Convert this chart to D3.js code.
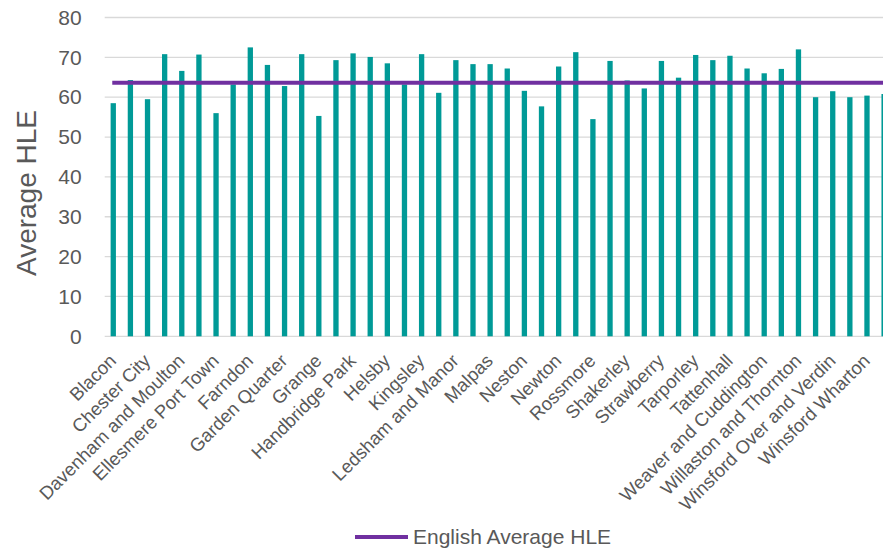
<!DOCTYPE html>
<html>
<head>
<meta charset="utf-8">
<script src="https://cdn.jsdelivr.net/npm/d3@7"></script>
<style>
  body { margin: 0; background: #fff; }
  svg { display: block; font-family: "Liberation Sans", Arial, sans-serif; }
</style>
</head>
<body>
<div id="chart"></div>
<script>
// wards, in the order they appear on the axis
var wards = [
    "Blacon", "Boughton", "Chester City", "Chester Villages", "Davenham and Moulton",
    "Dodleston and Huntington", "Ellesmere Port Town", "Elton", "Farndon", "Frodsham",
    "Garden Quarter", "Gowy", "Grange", "Great Boughton", "Handbridge Park",
    "Hartford and Greenbank", "Helsby", "Hoole", "Kingsley", "Lache",
    "Ledsham and Manor", "Little Neston and Burton", "Malpas", "Marbury", "Neston",
    "Netherpool", "Newton", "Parkgate", "Rossmore", "Saughall and Mollington",
    "Shakerley", "St Paul's", "Strawberry", "Sutton", "Tarporley",
    "Tarvin and Kelsall", "Tattenhall", "Upton", "Weaver and Cuddington", "Whitby",
    "Willaston and Thornton", "Winnington and Castle", "Winsford Over and Verdin",
    "Winsford Swanlow and Dene", "Winsford Wharton", "Witton and Rudheath"
];

// average healthy life expectancy per ward
var hle = [
    58.5, 64.3, 59.5, 70.8, 66.6, 70.7, 56.0, 63.2, 72.5, 68.1,
    62.8, 70.8, 55.3, 69.3, 71.0, 70.1, 68.5, 63.2, 70.8, 61.1,
    69.3, 68.3, 68.3, 67.2, 61.6, 57.7, 67.7, 71.3, 54.5, 69.1,
    64.2, 62.2, 69.1, 64.9, 70.6, 69.3, 70.4, 67.2, 66.0, 67.1,
    72.0, 60.0, 61.5, 60.0, 60.4, 60.8
];

var englishAverage = 63.6;
var yTicks = [0, 10, 20, 30, 40, 50, 60, 70, 80];

var width = 883, height = 548;

var svg = d3.select("#chart").append("svg")
    .attr("width", width)
    .attr("height", height);

svg.append("rect").attr("width", width).attr("height", height).attr("fill", "#fff");

// plot area runs off the right edge, like the source image
var xScale = d3.scaleBand()
    .domain(wards)
    .range([104.7, 104.7 + 46 * 17.13])
    .paddingInner(0.69)
    .paddingOuter(0.345);

var yScale = d3.scaleLinear().domain([0, 80]).range([336.3, 17.5]);

// gridlines
svg.append("g").selectAll("line")
    .data(yTicks)
    .enter().append("line")
    .attr("x1", 104.7)
    .attr("x2", 104.7 + 46 * 17.13)
    .attr("y1", d => yScale(d))
    .attr("y2", d => yScale(d))
    .attr("stroke", "#d9d9d9")
    .attr("stroke-width", 1.3);

// y axis labels
var yAxis = svg.append("g")
    .attr("transform", "translate(104.7,0)")
    .call(d3.axisLeft(yScale).tickValues(yTicks).tickSize(0).tickPadding(23));
yAxis.select(".domain").remove();
yAxis.selectAll("text")
    .attr("font-size", "21px")
    .attr("fill", "#595959")
    .attr("font-family", "Liberation Sans, Arial, sans-serif");

// bars
svg.append("g").selectAll("rect")
    .data(hle)
    .enter().append("rect")
    .attr("x", (d, i) => xScale(wards[i]))
    .attr("y", d => yScale(d))
    .attr("width", xScale.bandwidth())
    .attr("height", d => yScale(0) - yScale(d))
    .attr("fill", "#009a97");

// english average line
var cx = d => xScale(d) + xScale.bandwidth() / 2;
svg.append("line")
    .attr("x1", cx(wards[0]) - 1)
    .attr("x2", cx(wards[wards.length - 1]))
    .attr("y1", yScale(englishAverage))
    .attr("y2", yScale(englishAverage))
    .attr("stroke", "#7030a0")
    .attr("stroke-width", 4);

// x labels, every other ward
svg.append("g").selectAll("text")
    .data(wards.filter((d, i) => i % 2 == 0))
    .enter().append("text")
    .attr("transform", d => "translate(" + (cx(d) + 4) + ",362) rotate(-45)")
    .attr("text-anchor", "end")
    .attr("font-size", "18.5px")
    .attr("fill", "#595959")
    .text(d => d);

// axis title
svg.append("text")
    .attr("transform", "translate(36,193) rotate(-90)")
    .attr("text-anchor", "middle")
    .attr("font-size", "28px")
    .attr("fill", "#595959")
    .text("Average HLE");

// legend
svg.append("line")
    .attr("x1", 355).attr("x2", 408)
    .attr("y1", 537).attr("y2", 537)
    .attr("stroke", "#7030a0")
    .attr("stroke-width", 4);
svg.append("text")
    .attr("x", 413)
    .attr("y", 544)
    .attr("font-size", "21px")
    .attr("fill", "#595959")
    .text("English Average HLE");
</script>
</body>
</html>
